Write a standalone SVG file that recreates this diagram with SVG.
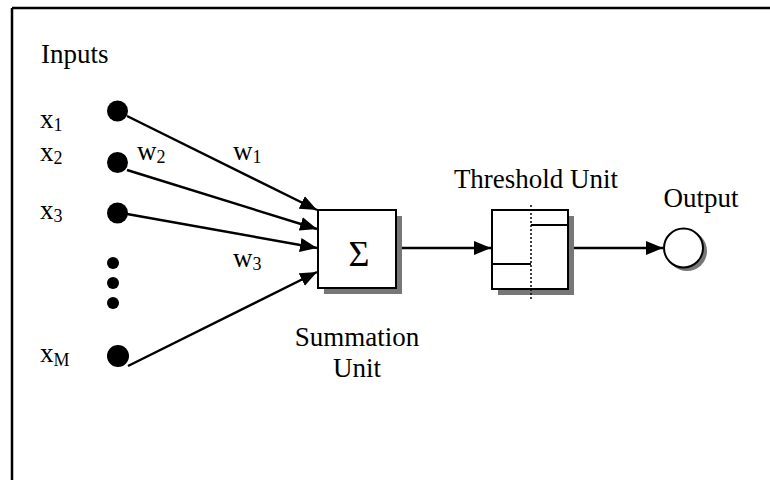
<svg xmlns="http://www.w3.org/2000/svg" width="770" height="480" viewBox="0 0 770 480">
<style>
  text { font-family: "Liberation Serif", "Times New Roman", serif; fill: #000; }
  .lbl { font-size: 27px; }
  .sub { font-size: 18px; }
  .conn { stroke: #000; stroke-width: 2.5; fill: none; marker-end: url(#arrow); }
  .box { fill: #fff; stroke: #000; stroke-width: 2; }
  .shadow { fill: #777; }
  .dot { fill: #000; }
</style>
<defs>
  <marker id="arrow" markerUnits="userSpaceOnUse" markerWidth="18" markerHeight="14" refX="17" refY="7" orient="auto">
    <path d="M0,0 L17,7 L0,14 z" fill="#000"/>
  </marker>
</defs>
<rect width="770" height="480" fill="#fff"/>
<g id="frame">
  <line x1="12" y1="8" x2="770" y2="8" stroke="#000" stroke-width="2.5"/>
  <line x1="12" y1="8" x2="12" y2="480" stroke="#000" stroke-width="2.5"/>
</g>
<text x="41" y="63" class="lbl">Inputs</text>

<g id="connectors">
  <line class="conn" x1="127" y1="116" x2="317" y2="210"/>
  <line class="conn" x1="127" y1="170" x2="317" y2="229"/>
  <line class="conn" x1="127" y1="214" x2="317" y2="248"/>
  <line class="conn" x1="128" y1="366" x2="317" y2="272"/>
  <line class="conn" x1="401" y1="248" x2="491" y2="248"/>
  <line class="conn" x1="573" y1="248" x2="663" y2="248"/>
</g>

<g id="x1">
  <circle class="dot" cx="117.5" cy="111" r="10.5"/>
  <text x="40" y="128" class="lbl">x<tspan class="sub" dy="3">1</tspan></text>
</g>
<g id="x2">
  <circle class="dot" cx="117.5" cy="162.5" r="10.5"/>
  <text x="40" y="161" class="lbl">x<tspan class="sub" dy="3">2</tspan></text>
</g>
<g id="x3">
  <circle class="dot" cx="117.5" cy="213" r="10.5"/>
  <text x="40" y="219" class="lbl">x<tspan class="sub" dy="3">3</tspan></text>
</g>
<g id="ellipsis">
  <circle class="dot" cx="113" cy="263" r="6"/>
  <circle class="dot" cx="113" cy="283" r="6"/>
  <circle class="dot" cx="113" cy="303" r="6"/>
</g>
<g id="xM">
  <circle class="dot" cx="118" cy="356" r="11"/>
  <text x="40" y="362" class="lbl">x<tspan class="sub" dy="4">M</tspan></text>
</g>

<g id="weights">
  <text x="137" y="160" class="lbl">w<tspan class="sub" dy="3">2</tspan></text>
  <text x="233" y="160" class="lbl">w<tspan class="sub" dy="3">1</tspan></text>
  <text x="233" y="267" class="lbl">w<tspan class="sub" dy="3">3</tspan></text>
</g>

<g id="summation">
  <rect class="shadow" x="324" y="216" width="78" height="78"/>
  <rect class="box" x="318" y="210" width="78" height="78"/>
  <text x="359" y="266" font-size="36" text-anchor="middle">Σ</text>
  <text x="357" y="346" class="lbl" text-anchor="middle">Summation</text>
  <text x="357" y="377" class="lbl" text-anchor="middle">Unit</text>
</g>

<g id="threshold">
  <rect class="shadow" x="498" y="216" width="76" height="79"/>
  <rect class="box" x="492" y="210" width="76" height="79"/>
  <line x1="531" y1="205" x2="531" y2="300" stroke="#000" stroke-width="1.5" stroke-dasharray="2,2"/>
  <line x1="492" y1="264" x2="531" y2="264" stroke="#000" stroke-width="2"/>
  <line x1="531" y1="225" x2="568" y2="225" stroke="#000" stroke-width="2"/>
  <text x="536" y="188" class="lbl" text-anchor="middle">Threshold Unit</text>
</g>

<g id="output">
  <circle cx="687" cy="251" r="20" fill="#777"/>
  <circle cx="683.5" cy="248" r="19.5" fill="#fff" stroke="#000" stroke-width="2"/>
  <text x="701" y="207" class="lbl" text-anchor="middle">Output</text>
</g>
</svg>
